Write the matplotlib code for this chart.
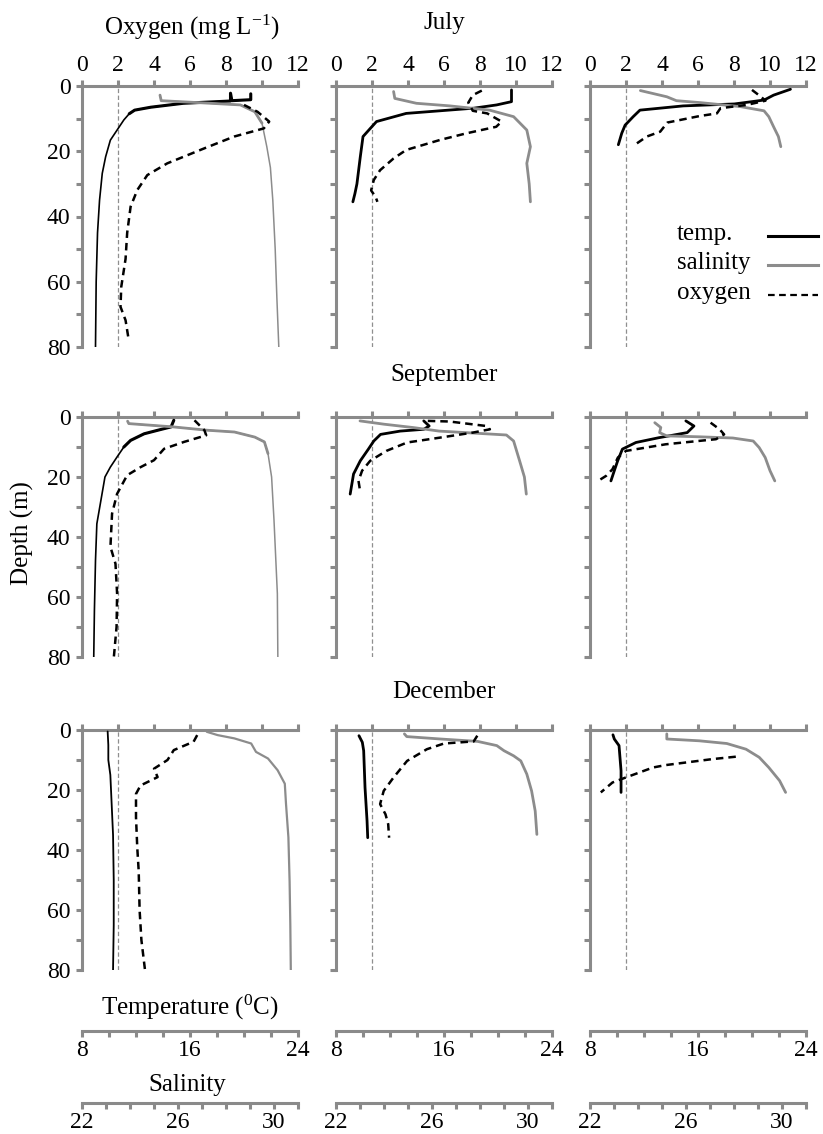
import matplotlib
matplotlib.use("Agg")
import matplotlib.pyplot as plt
from matplotlib.lines import Line2D
from matplotlib.ticker import FixedLocator, FixedFormatter

plt.rcParams['font.family'] = ['Liberation Serif', 'DejaVu Serif']
plt.rcParams['mathtext.fontset'] = 'custom'
plt.rcParams['mathtext.rm'] = 'Liberation Serif'
plt.rcParams['mathtext.it'] = 'Liberation Serif:italic'

# ---------------- data ----------------
months = ["July", "September", "December"]
legend_labels = ["temp.", "salinity", "oxygen"]

# July, station 1
jul1_t_d = [2.4, 4.2, 4.5, 2.2, 4.6, 5.3, 6.5, 7.4, 8.5, 10.4, 13.5, 16.6, 21.7, 26.8, 35, 45, 60, 80]
jul1_t = [20.5, 20.5, 19.1, 19.0, 19.0, 15.5, 13.1, 11.9, 11.5, 11.1, 10.6, 10.1, 9.75, 9.5, 9.3, 9.15, 9.05, 9.0]
jul1_s_d = [2.8, 4.5, 5.0, 5.8, 7.9, 11.4, 18.6, 25, 35, 50, 65, 80]
jul1_s = [25.25, 25.3, 26.6, 28.6, 29.2, 29.5, 29.7, 29.85, 29.95, 30.05, 30.12, 30.2]
jul1_o_d = [5.8, 7.9, 10.9, 13, 15.5, 19.1, 23.7, 27.3, 31.9, 37, 45, 53, 61.6, 67.7, 71.8, 78]
jul1_o = [9.0, 9.75, 10.4, 10.1, 8.45, 6.8, 4.74, 3.63, 3.07, 2.7, 2.51, 2.42, 2.18, 2.14, 2.42, 2.6]

# July, station 2
jul2_t_d = [1.2, 4.8, 5.8, 6.8, 7.6, 8.4, 10.9, 12.5, 15.5, 21.7, 30, 33, 35.5]
jul2_t = [21.0, 21.0, 19.9, 18.2, 15.7, 13.2, 11.0, 10.65, 10.0, 9.8, 9.55, 9.4, 9.25]
jul2_s_d = [1.7, 3.8, 5.3, 6.1, 7.4, 9.4, 13.5, 18.6, 23.7, 30, 35.5]
jul2_s = [24.4, 24.45, 25.35, 26.75, 28.4, 29.4, 29.95, 30.1, 29.95, 30.05, 30.1]
jul2_o_d = [1.4, 2.8, 5.1, 7.6, 8.4, 10.9, 12.5, 14.5, 16.5, 19.6, 22.2, 25.8, 28.8, 32, 34, 35.5]
jul2_o = [8.1, 7.6, 7.35, 7.6, 8.4, 9.2, 8.9, 7.25, 5.8, 3.9, 3.2, 2.45, 2.1, 1.95, 2.2, 2.3]

# July, station 3
jul3_t_d = [1.0, 2.8, 4.3, 5.5, 6.1, 7.4, 9.4, 12, 14.5, 18]
jul3_t = [22.85, 21.6, 20.9, 18.7, 14.9, 11.7, 11.2, 10.6, 10.35, 10.1]
jul3_s_d = [1.4, 3.3, 4.5, 5.1, 6.3, 7.6, 9.4, 12.5, 15.5, 18.6]
jul3_s = [24.1, 25.2, 25.6, 26.6, 28.25, 29.25, 29.45, 29.65, 29.85, 29.95]
jul3_o_d = [1.2, 3.1, 4.5, 5.8, 6.8, 8.4, 9.2, 11.2, 14, 15.5, 17.6]
jul3_o = [9.0, 9.45, 9.75, 8.7, 7.25, 7.05, 6.1, 4.3, 3.9, 3.15, 2.6]

# September, station 1
sep1_t_d = [1.1, 3.3, 4.2, 5.6, 7.8, 10, 13.3, 16.7, 20, 27.8, 35.6, 47.8, 64.4, 80]
sep1_t = [14.8, 14.6, 13.8, 12.6, 11.6, 11.1, 10.6, 10.1, 9.7, 9.4, 9.1, 9.0, 8.92, 8.87]
sep1_s_d = [1.4, 2.2, 3.3, 4.4, 5.0, 6.7, 8.3, 12.2, 20, 34.4, 58.9, 80]
sep1_s = [23.9, 23.95, 25.8, 27.2, 28.35, 29.2, 29.6, 29.75, 29.9, 30.0, 30.14, 30.16]
sep1_o_d = [1.1, 4.4, 6.1, 8.3, 10.6, 14.4, 16.7, 19.4, 25.6, 32.2, 43.3, 48.9, 58.9, 70, 80]
sep1_o = [6.25, 6.8, 6.9, 5.67, 4.56, 4.0, 3.26, 2.51, 1.95, 1.67, 1.58, 1.86, 1.95, 1.92, 1.77]

# September, station 2
sep2_t_d = [1.3, 3.0, 4.1, 4.7, 5.8, 8.0, 10.7, 14.6, 19, 25.7]
sep2_t = [14.5, 14.9, 14.5, 12.75, 11.3, 10.8, 10.4, 9.8, 9.3, 9.05]
sep2_s_d = [1.3, 2.4, 3.5, 4.7, 5.2, 6.0, 8.0, 14.6, 20, 25.7]
sep2_s = [23.0, 24.0, 25.2, 26.3, 27.4, 29.1, 29.4, 29.65, 29.85, 29.93]
sep2_o_d = [1.3, 1.5, 3.0, 4.1, 5.2, 6.9, 8.5, 11.3, 14.6, 17.9, 21.3, 25.1]
sep2_o = [5.1, 6.3, 8.35, 8.55, 7.6, 5.75, 3.95, 2.8, 1.9, 1.45, 1.25, 1.35]

# September, station 3
sep3_t_d = [1.3, 3.0, 5.2, 6.9, 8.5, 10.7, 14.6, 17.9, 21.3]
sep3_t = [15.1, 15.7, 15.2, 13.1, 11.4, 10.4, 10.05, 9.8, 9.55]
sep3_s_d = [1.9, 3.5, 5.2, 6.3, 6.6, 7.0, 8.0, 10.2, 13.5, 17.9, 21.3]
sep3_s = [24.7, 24.95, 24.9, 25.2, 26.55, 27.95, 28.8, 29.05, 29.3, 29.5, 29.7]
sep3_o_d = [1.9, 4.1, 5.8, 7.4, 9.1, 11.3, 13.5, 17.4, 19.6, 21.3]
sep3_o = [6.7, 7.2, 7.45, 7.0, 4.2, 2.0, 1.55, 1.25, 0.9, 0.45]

# December, station 1
dec1_t_d = [0.5, 5, 10, 15, 25, 35, 50, 65, 80]
dec1_t = [9.9, 9.95, 9.95, 10.1, 10.2, 10.3, 10.35, 10.35, 10.3]
dec1_s_d = [0.6, 1.7, 2.8, 4.5, 7.3, 9.5, 13.4, 17.9, 24.6, 35.8, 50.4, 65, 80]
dec1_s = [27.2, 27.65, 28.35, 29.05, 29.25, 29.75, 30.15, 30.45, 30.5, 30.6, 30.65, 30.68, 30.7]
dec1_o_d = [1.7, 3.9, 6.7, 10, 12.9, 15.7, 18.5, 21.3, 29.1, 39.2, 47, 60, 70, 80]
dec1_o = [6.4, 6.2, 5.1, 4.75, 4.0, 4.2, 3.25, 3.0, 3.0, 3.07, 3.15, 3.2, 3.3, 3.5]

# December, station 2
dec2_t_d = [1.9, 4.1, 6.9, 19.2, 30.3, 35.9]
dec2_t = [9.7, 9.95, 10.05, 10.15, 10.3, 10.35]
dec2_s_d = [1.3, 2.2, 3.0, 3.8, 5.2, 6.9, 8.6, 10.3, 14.7, 20.3, 27, 34.8]
dec2_s = [24.85, 24.95, 26.35, 27.9, 28.7, 29.0, 29.4, 29.7, 29.95, 30.15, 30.3, 30.37]
dec2_o_d = [1.9, 3.8, 4.5, 6.4, 10.3, 15.8, 20.3, 24.7, 28.1, 31.4, 35.9]
dec2_o = [7.85, 7.65, 6.0, 5.05, 3.95, 3.2, 2.65, 2.45, 2.75, 2.9, 2.95]

# December, station 3
dec3_t_d = [1.6, 3.0, 5.2, 13.6, 20.8]
dec3_t = [9.7, 9.8, 10.15, 10.3, 10.3]
dec3_s_d = [1.3, 3.0, 3.6, 4.5, 6.4, 9.1, 12.5, 16.9, 20.8]
dec3_s = [25.2, 25.2, 26.55, 27.7, 28.5, 29.05, 29.45, 29.9, 30.15]
dec3_o_d = [8.9, 9.7, 11.7, 12.5, 15.8, 17.5, 20.8]
dec3_o = [8.1, 6.8, 4.2, 3.5, 2.0, 1.25, 0.6]

oxy_ticks = [0, 2, 4, 6, 8, 10, 12]
depth_ticks = [0, 10, 20, 30, 40, 50, 60, 70, 80]
depth_labels = ["0", "", "20", "", "40", "", "60", "", "80"]
temp_ticks = [8, 10, 12, 14, 16, 18, 20, 22, 24]
temp_labels = ["8", "", "", "", "16", "", "", "", "24"]
sal_ticks = [22, 23, 24, 25, 26, 27, 28, 29, 30, 31]
sal_labels = ["22", "", "", "", "26", "", "", "", "30", ""]
hypoxia_threshold = 2

panels = [
    [(jul1_t_d, jul1_t, jul1_s_d, jul1_s, jul1_o_d, jul1_o),
     (jul2_t_d, jul2_t, jul2_s_d, jul2_s, jul2_o_d, jul2_o),
     (jul3_t_d, jul3_t, jul3_s_d, jul3_s, jul3_o_d, jul3_o)],
    [(sep1_t_d, sep1_t, sep1_s_d, sep1_s, sep1_o_d, sep1_o),
     (sep2_t_d, sep2_t, sep2_s_d, sep2_s, sep2_o_d, sep2_o),
     (sep3_t_d, sep3_t, sep3_s_d, sep3_s, sep3_o_d, sep3_o)],
    [(dec1_t_d, dec1_t, dec1_s_d, dec1_s, dec1_o_d, dec1_o),
     (dec2_t_d, dec2_t, dec2_s_d, dec2_s, dec2_o_d, dec2_o),
     (dec3_t_d, dec3_t, dec3_s_d, dec3_s, dec3_o_d, dec3_o)],
]

# ---------------- layout / style ----------------
W, H = 823, 1134
DPI = 100
fig = plt.figure(figsize=(W / DPI, H / DPI), dpi=DPI)
fig.patch.set_facecolor('white')

col_left = [82, 336, 590]
col_w = 216
row_top = [86, 417, 730]
row_h = [261, 240, 240]

AX_GRAY = '#8a8a8a'
SAL_GRAY = '#8c8c8c'
FS_TICK = 17
FS_LAB = 18
SPW = 2.2
TL = 4.3
OXY_DASH = (0, (3, 2))


def split_thick(d, v, lim):
    dd, vv = [], []
    for a, b in zip(d, v):
        dd.append(a)
        vv.append(b)
        if a > lim:
            break
    return dd, vv


for r in range(3):
    for c in range(3):
        l, t, h = col_left[c], row_top[r], row_h[r]
        ax = fig.add_axes([l / W, 1 - (t + h) / H, col_w / W, h / H])
        axT = ax.twiny()
        axS = ax.twiny()
        ax.set_xlim(0, 12)
        ax.set_ylim(80, 0)
        axT.set_xlim(8, 24)
        axS.set_xlim(22, 31)

        td, tv, sd, sv, od, ov = panels[r][c]

        ax.axvline(hypoxia_threshold, color='#8f8f8f', lw=0.9, ls=(0, (3.5, 2)), zorder=1)

        if c == 0 and r < 2:
            axS.plot(sv, sd, color=SAL_GRAY, lw=1.1, solid_capstyle='round')
            a, b = split_thick(sd, sv, 9)
            axS.plot(b, a, color=SAL_GRAY, lw=2.0, solid_capstyle='round')
            axT.plot(tv, td, color='black', lw=1.2, solid_capstyle='round')
            a, b = split_thick(td, tv, 8)
            axT.plot(b, a, color='black', lw=2.2, solid_capstyle='round')
        elif c == 0:
            axS.plot(sv, sd, color=SAL_GRAY, lw=1.6, solid_capstyle='round')
            axT.plot(tv, td, color='black', lw=1.3, solid_capstyle='round')
        else:
            axS.plot(sv, sd, color=SAL_GRAY, lw=2.0, solid_capstyle='round')
            axT.plot(tv, td, color='black', lw=2.0, solid_capstyle='round')
        # oxygen is drawn on the oxygen scale, above the twins
        axO = ax.twinx()
        axO.set_ylim(80, 0)
        axO.set_xlim(0, 12)
        axO.plot(ov, od, color='black', lw=1.8, ls=OXY_DASH)
        for sp in axO.spines.values():
            sp.set_visible(False)
        axO.set_yticks([])
        axO.patch.set_visible(False)

        # main axis (oxygen on top, depth on left)
        for sp in ['bottom', 'right']:
            ax.spines[sp].set_visible(False)
        for sp in ['top', 'left']:
            ax.spines[sp].set_color(AX_GRAY)
            ax.spines[sp].set_linewidth(SPW)
            ax.spines[sp].set_capstyle('projecting')
        ax.xaxis.tick_top()
        ax.xaxis.set_major_locator(FixedLocator(oxy_ticks))
        if r == 0:
            ax.xaxis.set_major_formatter(FixedFormatter([str(v) for v in oxy_ticks]))
        else:
            ax.xaxis.set_major_formatter(FixedFormatter([''] * len(oxy_ticks)))
        ax.yaxis.set_major_locator(FixedLocator(depth_ticks))
        if c == 0:
            ax.yaxis.set_major_formatter(FixedFormatter(depth_labels))
        else:
            ax.yaxis.set_major_formatter(FixedFormatter([''] * len(depth_ticks)))
        ax.tick_params(axis='both', direction='out', length=TL, width=SPW, color=AX_GRAY,
                       labelsize=FS_TICK, labelcolor='black')
        ax.tick_params(axis='x', pad=3)
        ax.tick_params(axis='y', pad=4)

        for tw in (axT, axS):
            for sp in tw.spines.values():
                sp.set_visible(False)
            tw.patch.set_visible(False)

        if r == 2:
            for tw, ticks, labs, off in ((axT, temp_ticks, temp_labels, 44),
                                         (axS, sal_ticks, sal_labels, 96)):
                tw.spines['bottom'].set_visible(True)
                tw.spines['bottom'].set_position(('outward', off))
                tw.spines['bottom'].set_color(AX_GRAY)
                tw.spines['bottom'].set_linewidth(SPW)
                tw.xaxis.set_ticks_position('bottom')
                tw.xaxis.set_label_position('bottom')
                tw.xaxis.set_major_locator(FixedLocator(ticks))
                tw.xaxis.set_major_formatter(FixedFormatter(labs))
                tw.tick_params(axis='x', direction='out', length=TL, width=SPW,
                               color=AX_GRAY, labelsize=FS_TICK, pad=2)
        else:
            axT.set_xticks([])
            axS.set_xticks([])

# ---------------- legend (text left-aligned, line samples to the right) ----------------
leg_styles = [dict(color='black', lw=2.2),
              dict(color=SAL_GRAY, lw=2.2),
              dict(color='black', lw=1.6, ls=OXY_DASH)]
leg_rows_y = [236, 265, 295]
for lab, st, y in zip(legend_labels, leg_styles, leg_rows_y):
    fig.text(677 / W, 1 - (y - 2) / H, lab, ha='left', va='center', fontsize=FS_LAB)
    fig.add_artist(Line2D([768 / W, 818 / W], [1 - y / H, 1 - y / H],
                          transform=fig.transFigure, **st))

# ---------------- text ----------------
fig.text(192 / W, 1 - 27 / H, 'Oxygen (mg L$^{-1}$)', ha='center', va='center', fontsize=FS_LAB)
title_y = [23, 375, 692]
for name, y in zip(months, title_y):
    fig.text(444 / W, 1 - y / H, name, ha='center', va='center', fontsize=FS_LAB)
fig.text(22 / W, 1 - 533 / H, 'Depth (m)', ha='center', va='center', rotation=90, fontsize=FS_LAB)
fig.text(190 / W, 1 - 1007 / H, 'Temperature ($^{0}$C)', ha='center', va='center', fontsize=FS_LAB)
fig.text(187 / W, 1 - 1085 / H, 'Salinity', ha='center', va='center', fontsize=FS_LAB)

fig.savefig('out.png', dpi=DPI, facecolor='white')
